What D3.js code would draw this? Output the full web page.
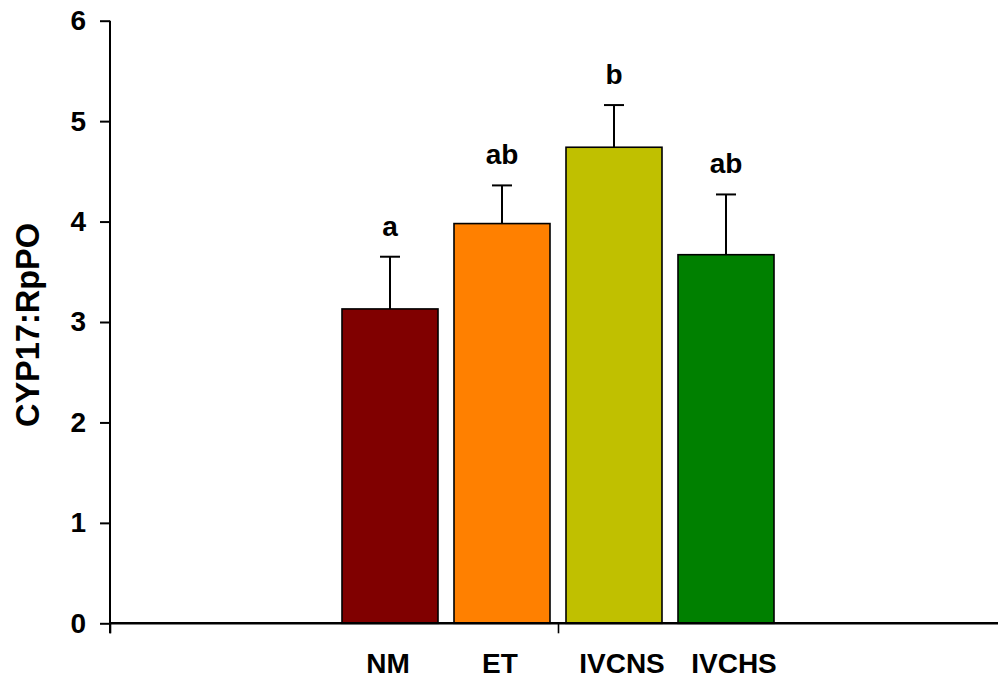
<!DOCTYPE html>
<html>
<head>
<meta charset="utf-8">
<script src="https://cdn.jsdelivr.net/npm/d3@7"></script>
<style>
  html, body { margin: 0; padding: 0; background: #fff; }
  svg { display: block; }
  text { font-family: Arial, "Liberation Sans", sans-serif; font-weight: bold; fill: #000; }
</style>
</head>
<body>
<svg id="chart" width="998" height="679"></svg>
<script>
// Groups and their measured ratio (mean with upper error bar)
const categories = ["NM", "ET", "IVCNS", "IVCHS"];
const means = [3.13, 3.98, 4.74, 3.67];
const errors = [0.52, 0.38, 0.42, 0.60];
const letters = ["a", "ab", "b", "ab"];
const colors = ["#800000", "#FF8000", "#C0C000", "#008000"];
const yTicks = [0, 1, 2, 3, 4, 5, 6];
const yTitle = "CYP17:RpPO";

const svg = d3.select("#chart");

const plot = { left: 110, right: 1006, top: 20.7, bottom: 623.3 };

const y = d3.scaleLinear().domain([0, 6]).range([plot.bottom, plot.top]);

// Outer frame axis: two slots, ticks at the start, middle and end
const frame = d3.scaleLinear().domain([0, 2]).range([plot.left, plot.right]);

// Bars sit in a band centred on the middle of the frame
const x = d3.scaleBand()
  .domain(categories)
  .range([334, 782])
  .paddingInner(16 / 112)
  .paddingOuter(8 / 112);

// Bars
svg.append("g")
  .selectAll("rect")
  .data(categories)
  .join("rect")
  .attr("x", (d) => x(d))
  .attr("y", (d, i) => y(means[i]))
  .attr("width", x.bandwidth())
  .attr("height", (d, i) => y(0) - y(means[i]))
  .attr("fill", (d, i) => colors[i])
  .attr("stroke", "#000")
  .attr("stroke-width", 1.6);

// Error bars (upper only)
const err = svg.append("g").attr("stroke", "#000").attr("stroke-width", 2);
categories.forEach((c, i) => {
  const cx = x(c) + x.bandwidth() / 2;
  err.append("line")
    .attr("x1", cx).attr("x2", cx)
    .attr("y1", y(means[i])).attr("y2", y(means[i] + errors[i]));
  err.append("line")
    .attr("x1", cx - 10).attr("x2", cx + 10)
    .attr("y1", y(means[i] + errors[i])).attr("y2", y(means[i] + errors[i]));
});

// Significance letters
svg.append("g")
  .selectAll("text")
  .data(categories)
  .join("text")
  .attr("x", (d) => x(d) + x.bandwidth() / 2)
  .attr("y", (d, i) => y(means[i] + errors[i]) - 21)
  .attr("text-anchor", "middle")
  .attr("font-size", 28)
  .text((d, i) => letters[i]);

// Y axis
const yAxis = d3.axisLeft(y).tickValues(yTicks).tickSize(10).tickPadding(14).tickFormat(d3.format("d"));
const gy = svg.append("g").attr("transform", `translate(${plot.left},0)`).call(yAxis);
gy.select(".domain").remove();
gy.append("line")
  .attr("x1", 0).attr("x2", 0)
  .attr("y1", plot.top).attr("y2", plot.bottom + 10)
  .attr("stroke", "#000").attr("stroke-width", 2);
gy.selectAll(".tick line").attr("stroke", "#000").attr("stroke-width", 2);
gy.selectAll(".tick text")
  .attr("font-size", 28)
  .attr("font-family", "Arial, 'Liberation Sans', sans-serif")
  .attr("font-weight", "bold")
  .attr("fill", "#000");

// X axis frame
const xAxis = d3.axisBottom(frame).tickValues([0, 1, 2]).tickSize(10).tickFormat("");
const gx = svg.append("g").attr("transform", `translate(0,${plot.bottom})`).call(xAxis);
gx.select(".domain").remove();
gx.append("line")
  .attr("x1", plot.left).attr("x2", plot.right)
  .attr("y1", 0).attr("y2", 0)
  .attr("stroke", "#000").attr("stroke-width", 2.4);
gx.selectAll(".tick line").attr("stroke", "#000").attr("stroke-width", 1.6);

// Category labels
svg.append("g")
  .selectAll("text")
  .data(categories)
  .join("text")
  .attr("x", (d) => x(d) + x.bandwidth() / 2 + (d.length > 2 ? 8 : -2))
  .attr("y", 673)
  .attr("text-anchor", "middle")
  .attr("font-size", 28)
  .text((d) => d);

// Y title
svg.append("text")
  .attr("transform", "translate(39,325) rotate(-90)")
  .attr("text-anchor", "middle")
  .attr("font-size", 32.5)
  .text(yTitle);
</script>
</body>
</html>
